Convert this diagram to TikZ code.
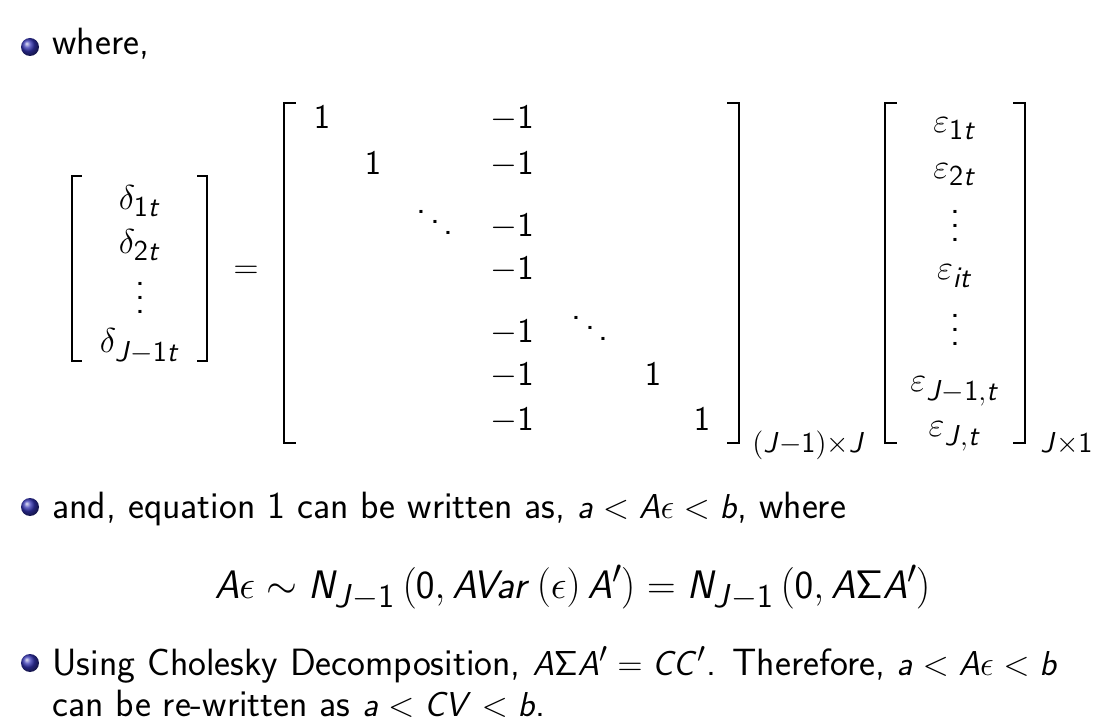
\documentclass[tikz,border=0pt]{standalone}
\usetikzlibrary{shadings}
\renewcommand{\familydefault}{\sfdefault}
\DeclareSymbolFont{sfit}{OT1}{cmss}{m}{sl}
\DeclareSymbolFont{sfup}{OT1}{cmss}{m}{n}
\DeclareMathSymbol{A}{\mathalpha}{sfit}{`A}
\DeclareMathSymbol{C}{\mathalpha}{sfit}{`C}
\DeclareMathSymbol{J}{\mathalpha}{sfit}{`J}
\DeclareMathSymbol{N}{\mathalpha}{sfit}{`N}
\DeclareMathSymbol{V}{\mathalpha}{sfit}{`V}
\DeclareMathSymbol{a}{\mathalpha}{sfit}{`a}
\DeclareMathSymbol{b}{\mathalpha}{sfit}{`b}
\DeclareMathSymbol{i}{\mathalpha}{sfit}{`i}
\DeclareMathSymbol{r}{\mathalpha}{sfit}{`r}
\DeclareMathSymbol{t}{\mathalpha}{sfit}{`t}
\DeclareMathSymbol{0}{\mathalpha}{sfup}{`0}
\DeclareMathSymbol{1}{\mathalpha}{sfup}{`1}
\DeclareMathSymbol{2}{\mathalpha}{sfup}{`2}
\DeclareMathSymbol{\Sigma}{\mathalpha}{sfup}{"06}
\DeclareMathSizes{19}{19}{14}{10}
\newcommand{\myvdots}{\vbox{\baselineskip7pt\lineskiplimit0pt\hbox{.}\hbox{.}\hbox{.}}}
\newcommand{\myddots}{\hbox{\raise10.5pt\hbox{.}\kern1.7pt\raise5.2pt\hbox{.}\kern1.7pt\hbox{.}}}
\definecolor{structblue}{rgb}{0.2,0.2,0.7}
\tikzset{
  ent/.style={anchor=base, inner sep=0pt},
  txt/.style={anchor=base west, inner sep=0pt},
  dts/.style={inner sep=0pt},
  brk/.style={line width=1.4pt, line join=miter, line cap=rect},
  bul/.style={ball color=structblue, circle, minimum size=9pt, inner sep=0pt, draw=none}
}
\begin{document}
\begin{tikzpicture}[x=0.5pt,y=-0.5pt,font=\fontsize{19}{23}\selectfont]
\useasboundingbox (0,0) rectangle (1104,727);
% bullets
\node[bul] (b1) at (30,47) {};
\node[bul] (b2) at (30,507) {};
\node[bul] (b3) at (30,663) {};
\node[txt] (t1) at (52,55) {where,};
% delta vector
\draw[brk] (81,176) -- (72,176) -- (72,361) -- (81,361);
\draw[brk] (198,176) -- (207,176) -- (207,361) -- (198,361);
\node[ent] (d1) at (140,210) {$\delta_{1t}$};
\node[ent] (d2) at (140,254) {$\delta_{2t}$};
\node[dts] (dv) at (140,298) {\myvdots};
\node[ent] (d3) at (140,353) {$\delta_{J-1t}$};
\node[inner sep=0pt] (eq) at (246,272) {$=$};
% big matrix
\draw[brk] (295,103) -- (284,103) -- (284,443) -- (295,443);
\draw[brk] (728,103) -- (739,103) -- (739,443) -- (728,443);
\node[ent] (m11) at (322,129) {$1$};
\node[ent] (m22) at (373,175) {$1$};
\node[dts] (md1) at (435,222) {\myddots};
\node[dts] (md2) at (590,328) {\myddots};
\node[ent] (m66) at (653,386) {$1$};
\node[ent] (m77) at (702,430) {$1$};
\node[ent] (c1) at (512,129) {$-1$};
\node[ent] (c2) at (512,175) {$-1$};
\node[ent] (c3) at (512,237) {$-1$};
\node[ent] (c4) at (512,280) {$-1$};
\node[ent] (c5) at (512,343) {$-1$};
\node[ent] (c6) at (512,386) {$-1$};
\node[ent] (c7) at (512,430) {$-1$};
\node[txt] (ms) at (752,452) {$\scriptstyle (J-1)\times J$};
% epsilon vector
\draw[brk] (896,103) -- (885,103) -- (885,443) -- (896,443);
\draw[brk] (1014,103) -- (1025,103) -- (1025,443) -- (1014,443);
\node[ent] (e1) at (955,133) {$\varepsilon_{1t}$};
\node[ent] (e2) at (955,179) {$\varepsilon_{2t}$};
\node[dts] (ev1) at (955,226) {\myvdots};
\node[ent] (e3) at (955,280) {$\varepsilon_{it}$};
\node[dts] (ev2) at (955,330) {\myvdots};
\node[ent] (e4) at (955,392) {$\varepsilon_{J-1,t}$};
\node[ent] (e5) at (955,437) {$\varepsilon_{J,t}$};
\node[txt] (es) at (1040,452) {$\scriptstyle J\times 1$};
% text
\node[txt] (t2) at (52,518) {and, equation 1 can be written as, $a<A\epsilon<b$, where};
\node[ent] (t3) at (573,598) {\scalebox{1.15}{$A\epsilon\sim N_{J-1}\left(\vphantom{\big(}0,AVar\left(\epsilon\right)A'\right)=N_{J-1}\left(\vphantom{\big(}0,A\Sigma A'\right)$}};
\node[txt] (t4) at (52,675) {Using Cholesky Decomposition, $A\Sigma A'=CC'$. Therefore, $a<A\epsilon<b$};
\node[txt] (t5) at (52,716) {can be re-written as $a<CV<b$.};
\end{tikzpicture}
\end{document}
